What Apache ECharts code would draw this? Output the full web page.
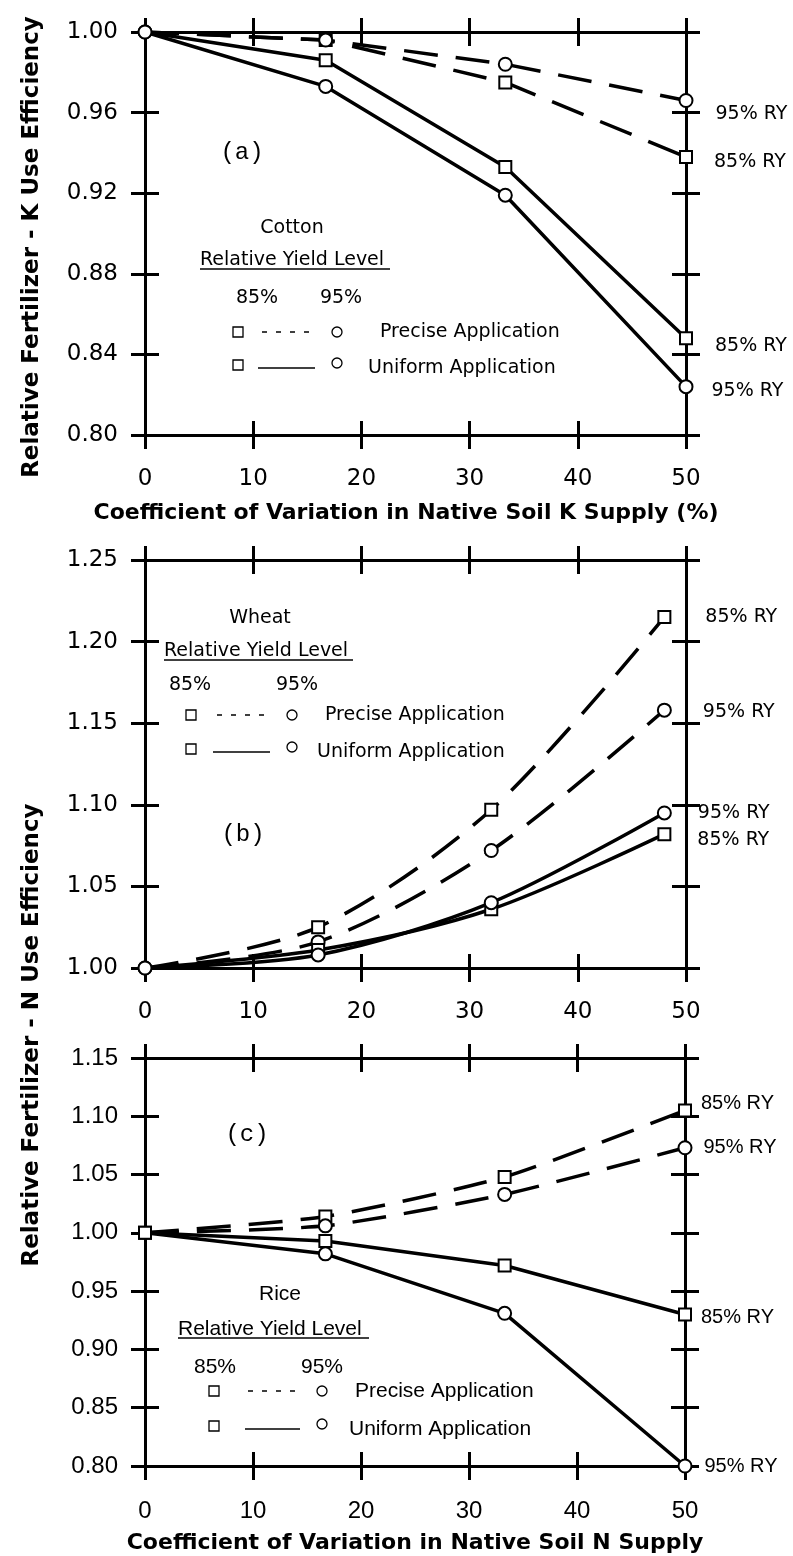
<!DOCTYPE html>
<html><head><meta charset="utf-8">
<script src="https://cdn.jsdelivr.net/npm/echarts@6/dist/echarts.min.js"></script>
<style>html,body{margin:0;padding:0;background:#fff}#c{width:793px;height:1556px}</style>
</head><body><div id="c"></div>
<script>
// ---------- data ----------
const xTickValues = [0, 10, 20, 30, 40, 50];
// (a) Cotton, K
const xA = [0, 16.7, 33.3, 50];
const aPrecise85 = [1.000, 0.996, 0.975, 0.938];
const aPrecise95 = [1.000, 0.996, 0.984, 0.966];
const aUniform85 = [1.000, 0.986, 0.933, 0.848];
const aUniform95 = [1.000, 0.973, 0.919, 0.824];
const aYTicks = [0.80, 0.84, 0.88, 0.92, 0.96, 1.00];
// (b) Wheat, N
const xB = [0, 16, 32, 48];
const bPrecise85 = [1.000, 1.025, 1.097, 1.215];
const bPrecise95 = [1.000, 1.016, 1.072, 1.158];
const bUniform85 = [1.000, 1.011, 1.036, 1.082];
const bUniform95 = [1.000, 1.008, 1.040, 1.095];
const bYTicks = [1.00, 1.05, 1.10, 1.15, 1.20, 1.25];
// (c) Rice, N
const xC = [0, 16.7, 33.3, 50];
const cPrecise85 = [1.000, 1.014, 1.048, 1.105];
const cPrecise95 = [1.000, 1.006, 1.033, 1.073];
const cUniform85 = [1.000, 0.993, 0.972, 0.930];
const cUniform95 = [1.000, 0.982, 0.931, 0.800];
const cYTicks = [0.80, 0.85, 0.90, 0.95, 1.00, 1.05, 1.10, 1.15];

const endLabels = ['85% RY', '95% RY'];

// ---------- helpers ----------
const DJ = '"DejaVu Sans"';
const LS = '"Liberation Sans"';

function axisLineStyle() { return { show: true, onZero: false, lineStyle: { color: '#000', width: 3 } }; }

function makeAxes(g, yTicks, interval, labelFont, labelSize) {
  const yMin = yTicks[0], yMax = yTicks[yTicks.length - 1];
  const xs = [], ys = [];
  const confs = [
    { pos: 'bottom', inside: false, label: true },
    { pos: 'bottom', inside: true, label: false },
    { pos: 'top', inside: false, label: false },
    { pos: 'top', inside: true, label: false }
  ];
  confs.forEach(c => {
    xs.push({
      type: 'value', gridIndex: g, position: c.pos, min: xTickValues[0], max: xTickValues[xTickValues.length - 1], interval: 10,
      axisLine: axisLineStyle(),
      axisTick: { show: true, inside: c.inside, length: 14, lineStyle: { color: '#000', width: 3 } },
      axisLabel: { show: c.label, margin: 33, color: '#000', fontFamily: labelFont, fontSize: labelSize, showMinLabel: true, showMaxLabel: true },
      splitLine: { show: false }
    });
  });
  const yconfs = [
    { pos: 'left', inside: false, label: true },
    { pos: 'left', inside: true, label: false },
    { pos: 'right', inside: false, label: false },
    { pos: 'right', inside: true, label: false }
  ];
  yconfs.forEach(c => {
    ys.push({
      type: 'value', gridIndex: g, position: c.pos, min: yMin, max: yMax, interval: interval,
      axisLine: axisLineStyle(),
      axisTick: { show: true, inside: c.inside, length: 14, lineStyle: { color: '#000', width: 3 } },
      axisLabel: { show: c.label, margin: 27, color: '#000', fontFamily: labelFont, fontSize: labelSize,
        formatter: v => v.toFixed(2), showMinLabel: true, showMaxLabel: true },
      splitLine: { show: false }
    });
  });
  return { xs, ys };
}

function makeSeries(g, xs, ys, dashed, isCircle, smooth, hideFirst, lab) {
  const data = xs.map((x, i) => {
    const item = { value: [x, ys[i]] };
    if (i === 0 && hideFirst) item.symbol = 'none';
    if (i === xs.length - 1 && lab) {
      item.label = { show: true, position: 'right', distance: 5, offset: lab.offset, formatter: lab.text,
        color: '#000', fontFamily: lab.font, fontSize: lab.size };
    }
    return item;
  });
  return {
    type: 'line', xAxisIndex: g * 4, yAxisIndex: g * 4, data,
    symbol: isCircle ? 'emptyCircle' : 'emptyRect', symbolSize: isCircle ? 13 : 12, showAllSymbol: true,
    smooth: smooth,
    lineStyle: { color: '#000', width: 3.5, type: dashed ? [34, 18] : 'solid' },
    itemStyle: { color: '#000', borderColor: '#000', borderWidth: 1.5 },
    z: 3, silent: true
  };
}

function legend(o) {
  const f = o.size + 'px ' + o.font;
  const t = (text, x, y, align) => ({ type: 'text', style: { text, x, y, font: f, fill: '#000', textAlign: align || 'left', textVerticalAlign: 'middle' } });
  return [
    t(o.crop, o.cropX, o.cropY, 'center'),
    t('Relative Yield Level', o.ryX, o.ryY),
    { type: 'line', shape: { x1: o.ryX, y1: o.ulY, x2: o.ryX2, y2: o.ulY }, style: { stroke: '#000', lineWidth: 1.5 } },
    t('85%', o.p85X, o.pctY, 'center'),
    t('95%', o.p95X, o.pctY, 'center'),
    { type: 'rect', shape: { x: o.sqX - 5, y: o.r1Y - 5, width: 10, height: 10 }, style: { fill: '#fff', stroke: '#000', lineWidth: 1.3 } },
    { type: 'line', shape: { x1: o.d1X1, y1: o.r1Y, x2: o.d1X2, y2: o.r1Y }, style: { stroke: '#000', lineWidth: 1.5, lineDash: [5, 9] } },
    { type: 'circle', shape: { cx: o.ciX, cy: o.r1Y, r: 5 }, style: { fill: '#fff', stroke: '#000', lineWidth: 1.3 } },
    t('Precise Application', o.t1X, o.r1Y),
    { type: 'rect', shape: { x: o.sqX - 5, y: o.r2Y - 5, width: 10, height: 10 }, style: { fill: '#fff', stroke: '#000', lineWidth: 1.3 } },
    { type: 'line', shape: { x1: o.d2X1, y1: o.r2Y + 3, x2: o.d2X2, y2: o.r2Y + 3 }, style: { stroke: '#000', lineWidth: 1.5 } },
    { type: 'circle', shape: { cx: o.ciX, cy: o.r2Y - 2, r: 5 }, style: { fill: '#fff', stroke: '#000', lineWidth: 1.3 } },
    t('Uniform Application', o.t2X, o.r2Y + 3)
  ];
}

// ---------- build ----------
const A = makeAxes(0, aYTicks, 0.04, 'DejaVu Sans', 23);
const B = makeAxes(1, bYTicks, 0.05, 'DejaVu Sans', 23);
const C = makeAxes(2, cYTicks, 0.05, 'Liberation Sans', 24);

const labA = (text, dx, dy) => ({ text, offset: [dx, dy], font: 'DejaVu Sans', size: 19 });
const labC = (text, dx, dy) => ({ text, offset: [dx, dy], font: 'Liberation Sans', size: 20 });

const series = [
  makeSeries(0, xA, aPrecise85, true, false, false, true, labA(endLabels[0], 16, 5)),
  makeSeries(0, xA, aPrecise95, true, true, false, false, labA(endLabels[1], 17, 14)),
  makeSeries(0, xA, aUniform85, false, false, false, true, labA(endLabels[0], 17, 8)),
  makeSeries(0, xA, aUniform95, false, true, false, false, labA(endLabels[1], 13, 4)),

  makeSeries(1, xB, bPrecise85, true, false, 0.3, true, labA(endLabels[0], 29, 0)),
  makeSeries(1, xB, bPrecise95, true, true, 0.3, false, labA(endLabels[1], 26, 2)),
  makeSeries(1, xB, bUniform85, false, false, 0.3, true, labA(endLabels[0], 21, 6)),
  makeSeries(1, xB, bUniform95, false, true, 0.3, false, labA(endLabels[1], 21, 0)),

  makeSeries(2, xC, cPrecise85, true, false, 0.2, false, labC(endLabels[0], 4, -7)),
  makeSeries(2, xC, cPrecise95, true, true, 0.2, true, labC(endLabels[1], 6, 0)),
  makeSeries(2, xC, cUniform85, false, false, false, false, labC(endLabels[0], 4, 3)),
  makeSeries(2, xC, cUniform95, false, true, false, true, labC(endLabels[1], 7, 0))
];

const txt = (text, x, y, font, align) => ({ type: 'text', style: { text, x, y, font, fill: '#000', textAlign: align || 'center', textVerticalAlign: 'middle' } });

const graphics = [].concat(
  legend({ font: DJ, size: 19, crop: 'Cotton', cropX: 292, cropY: 228, ryX: 200, ryX2: 390, ryY: 260, ulY: 269,
    p85X: 257, p95X: 341, pctY: 298, sqX: 238, d1X1: 262, d1X2: 313, ciX: 337, t1X: 380, r1Y: 332,
    d2X1: 258, d2X2: 315, t2X: 368, r2Y: 365 }),
  legend({ font: DJ, size: 19, crop: 'Wheat', cropX: 260, cropY: 618, ryX: 164, ryX2: 353, ryY: 651, ulY: 660,
    p85X: 190, p95X: 297, pctY: 685, sqX: 191, d1X1: 217, d1X2: 270, ciX: 292, t1X: 325, r1Y: 715,
    d2X1: 213, d2X2: 270, t2X: 317, r2Y: 749 }),
  legend({ font: LS, size: 21, crop: 'Rice', cropX: 280, cropY: 1294, ryX: 178, ryX2: 369, ryY: 1329, ulY: 1338,
    p85X: 215, p95X: 322, pctY: 1367, sqX: 214, d1X1: 248, d1X2: 298, ciX: 322, t1X: 355, r1Y: 1391,
    d2X1: 245, d2X2: 300, t2X: 349, r2Y: 1426 }),
  [
    txt('(a)', 242, 153, '24px "Liberation Mono"'),
    txt('(b)', 243, 835, '24px "Liberation Mono"'),
    txt('(c)', 247, 1135, '24px "Liberation Mono"'),
    txt('Coefficient of Variation in Native Soil K Supply (%)', 406, 513, 'bold 22px ' + DJ),
    txt('Coefficient of Variation in Native Soil N Supply', 415, 1543, 'bold 22px ' + DJ),
    { type: 'text', x: 32, y: 247, rotation: Math.PI / 2,
      style: { text: 'Relative Fertilizer - K Use Efficiency', x: 0, y: 0, font: 'bold 23px ' + DJ, fill: '#000', textAlign: 'center', textVerticalAlign: 'middle' } },
    { type: 'text', x: 32, y: 1035, rotation: Math.PI / 2,
      style: { text: 'Relative Fertilizer - N Use Efficiency', x: 0, y: 0, font: 'bold 23px ' + DJ, fill: '#000', textAlign: 'center', textVerticalAlign: 'middle' } }
  ]
);

const chart = echarts.init(document.getElementById('c'), null, { renderer: 'canvas' });
chart.setOption({
  animation: false,
  backgroundColor: '#fff',
  grid: [
    { left: 145, top: 32, width: 541, height: 403 },
    { left: 145, top: 560, width: 541, height: 408 },
    { left: 145, top: 1058, width: 540, height: 408 }
  ],
  xAxis: A.xs.concat(B.xs, C.xs),
  yAxis: A.ys.concat(B.ys, C.ys),
  series,
  graphic: graphics
});
</script>
</body></html>
